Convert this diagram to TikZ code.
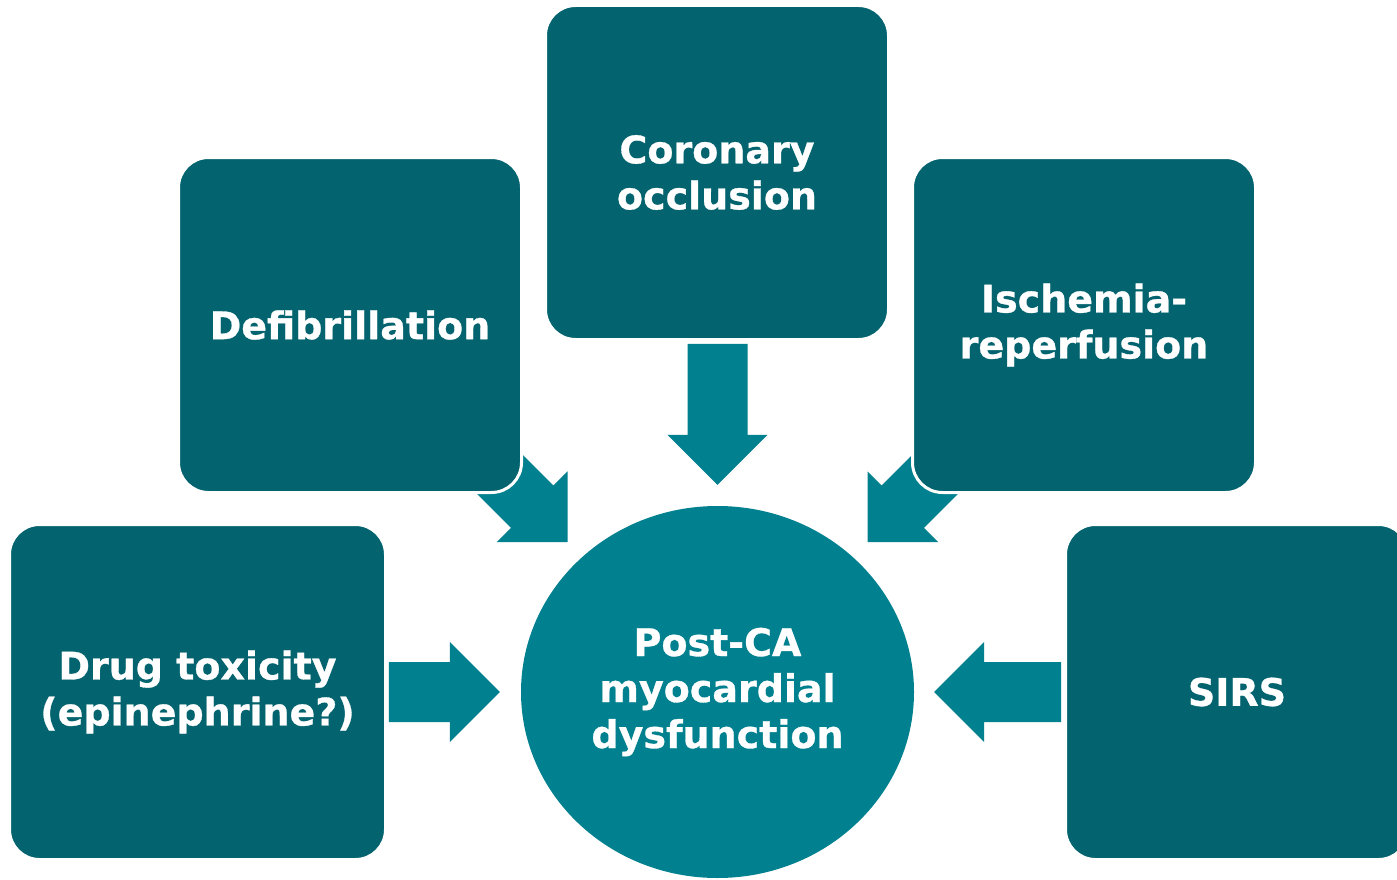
\documentclass[tikz,border=0pt]{standalone}
\usepackage{fontspec}
\setmainfont{DejaVu Sans}[BoldFeatures={FakeBold=0.8}]
\usetikzlibrary{calc,shapes.geometric}
\definecolor{boxteal}{HTML}{03636E}
\definecolor{arrowteal}{HTML}{01818F}
\tikzset{
  cause/.style={rectangle, rounded corners=30pt, fill=boxteal, draw=white,
    line width=3pt, text=white, align=center, minimum height=335pt,
    font=\bfseries\fontsize{38}{46}\selectfont},
  hub/.style={ellipse, fill=arrowteal, text=white, align=center,
    minimum width=393pt, minimum height=372pt, inner sep=0pt,
    font=\bfseries\fontsize{38}{46}\selectfont},
  pics/blockarrow/.style={code={
    \fill[arrowteal] (0,0) -- (-50,50) -- (-50,30) -- (-50-#1,30)
      -- (-50-#1,-30) -- (-50,-30) -- (-50,-50) -- cycle;}}
}
\begin{document}
\begin{tikzpicture}[x=1pt,y=-1pt]
\clip (0,0) rectangle (1397,880);
\useasboundingbox (0,0) rectangle (1397,880);
\fill[white] (0,0) rectangle (1397,880);

% central outcome, placed first so the arrows can be positioned from it
\node[hub] (post) at (717.5,692) {Post-CA\\myocardial\\dysfunction};

% block arrows pointing at the outcome
\coordinate (tipN)  at ($(post.north)+(0,-21)$);
\coordinate (tipW)  at ($(post.west)+(-21,0)$);
\coordinate (tipE)  at ($(post.east)+(20,0)$);
\coordinate (tipNW) at ($(post.center)+(-150,-150)$);
\coordinate (tipNE) at ($(post.center)+(150,-150)$);
\pic[rotate=-90]  at (tipN)  {blockarrow=91};
\pic[rotate=0]    at (tipW)  {blockarrow=61};
\pic[rotate=180]  at (tipE)  {blockarrow=77};
\pic[rotate=-45]  at (tipNW) {blockarrow=70};
\pic[rotate=-135] at (tipNE) {blockarrow=70};

% contributing causes
\node[cause, minimum width=343pt, minimum height=334pt] (coronary) at (717,172.5) {Coronary\\occlusion};
\node[cause, minimum width=343pt] (defib) at (350,325) {Defibrillation};
\node[cause, minimum width=343pt] (ischemia) at (1084,325) {Ischemia-\\reperfusion};
\node[cause, minimum width=376pt] (drug) at (197.5,692) {Drug toxicity\\(epinephrine?)};
\node[cause, minimum width=343pt] (sirs) at (1237,692) {SIRS};
\end{tikzpicture}
\end{document}
